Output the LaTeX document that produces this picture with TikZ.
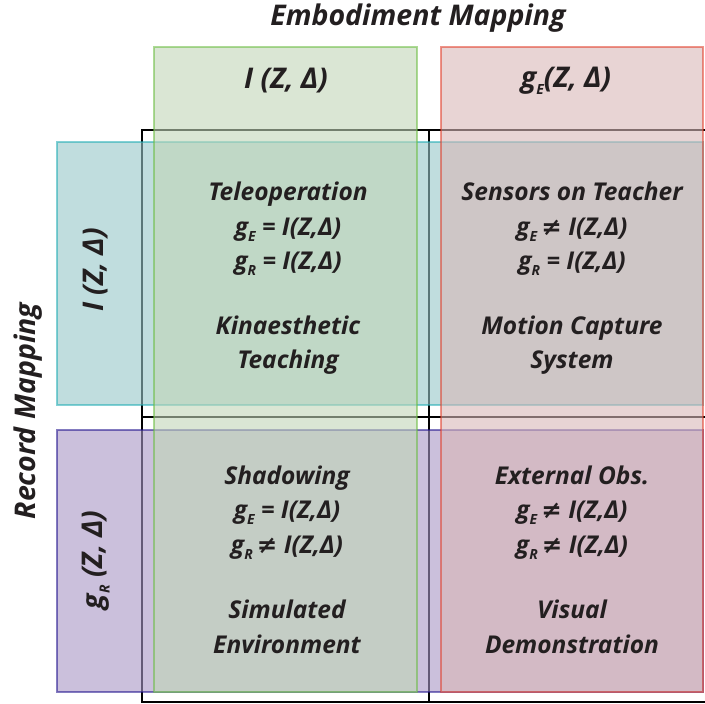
\documentclass[tikz,border=0pt]{standalone}
\usepackage{fontspec}
\setmainfont{Open Sans}
\newfontfamily\symfont{DejaVu Sans}
\definecolor{inkc}{RGB}{35,31,32}
% translucent fills (over white they give the pale tints)
\definecolor{cyanfill}{RGB}{150,198,200}
\definecolor{purpfill}{RGB}{168,150,197}
\definecolor{greenfill}{RGB}{193,213,183}
\definecolor{redfill}{RGB}{217,183,183}
% frame colours
\definecolor{cyanedge}{RGB}{30,172,180}
\definecolor{purpedge}{RGB}{30,15,140}
\definecolor{greenedge}{RGB}{105,188,63}
\definecolor{rededge}{RGB}{225,60,40}
\newcommand{\lowsub}[1]{\raisebox{-0.45ex}{\fontsize{14}{14}\selectfont #1}}
\newcommand{\neqsign}{\,{\symfont\bfseries\itshape ≠}}
\tikzset{
  gridline/.style={draw=black, line width=2pt},
  band/.style={fill opacity=0.6, draw opacity=0.55, line width=2.7pt},
  lbl/.style={text=inkc, font=\fontsize{24.5}{34.5}\selectfont\bfseries\itshape, align=center, inner sep=0pt},
  head/.style={lbl, font=\fontsize{28.5}{34.5}\selectfont\bfseries\itshape},
}
\begin{document}
\begin{tikzpicture}[x=1pt,y=-1pt]
\useasboundingbox (0,0) rectangle (705,704);
% table grid
\draw[gridline] (142,130) -- (705,130);
\draw[gridline] (142,417) -- (705,417);
\draw[gridline] (142,702) -- (705,702);
\draw[gridline] (142,129) -- (142,703);
\draw[gridline] (429,129) -- (429,703);
% record-mapping rows
\draw[band, fill=cyanfill, draw=cyanedge] (57,142) rectangle (703,405);
\draw[band, fill=purpfill, draw=purpedge] (57,430) rectangle (703,692);
% embodiment-mapping columns
\draw[band, fill=greenfill, draw=greenedge] (154,47) rectangle (417,692);
\draw[band, fill=redfill, draw=rededge] (441,47) rectangle (703,692);
% axis titles
\node[head] (embt) at (418,18) {Embodiment Mapping};
\node[head, rotate=90] (rect) at (28,411) {Record Mapping};
% column headers
\node[head] (colI) at (286,81) {I (Z, Δ)};
\node[head] (colG) at (566,81) {g\lowsub{E}(Z, Δ)};
% row headers
\node[head, rotate=90] (rowI) at (96,270) {I (Z, Δ)};
\node[head, rotate=90] (rowG) at (96,560) {g\lowsub{R} (Z, Δ)};
% cells
\node[lbl] (tlA) at (288,229) {Teleoperation\\ g\lowsub{E} = I(Z,Δ)\\ g\lowsub{R} = I(Z,Δ)};
\node[lbl] (tlB) at (288,345) {Kinaesthetic\\ Teaching};
\node[lbl] (trA) at (572,229) {Sensors on Teacher\\ g\lowsub{E}\neqsign\ I(Z,Δ)\\ g\lowsub{R} = I(Z,Δ)};
\node[lbl] (trB) at (572,345) {Motion Capture\\ System};
\node[lbl] (blA) at (287,512.5) {Shadowing\\ g\lowsub{E} = I(Z,Δ)\\ g\lowsub{R}\neqsign\ I(Z,Δ)};
\node[lbl] (blB) at (287,627) {Simulated\\ Environment};
\node[lbl] (brA) at (572,512.5) {External Obs.\\ g\lowsub{E}\neqsign\ I(Z,Δ)\\ g\lowsub{R}\neqsign\ I(Z,Δ)};
\node[lbl] (brB) at (572,627) {Visual\\ Demonstration};
\end{tikzpicture}
\end{document}
